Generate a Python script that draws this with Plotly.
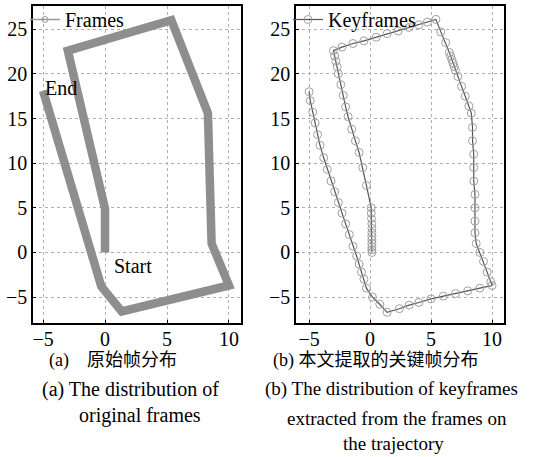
import plotly.graph_objects as go

# Original frames trajectory (vertices of the path)
frames_x = [0.0, 0.0, -3.0, 5.35, 8.3, 8.6, 10.0, 1.35, -0.3, -5.0]
frames_y = [0.0, 4.9, 22.6, 26.0, 15.6, 1.0, -3.7, -6.6, -3.8, 18.1]

# Extracted keyframes
key_x = [0.15, 0.15, 0.15, 0.15, 0.15, 0.15, 0.15, 0.15, 0.15, 0.12, 0.1, 0.1,
         -0.3, -0.6, -0.9, -1.2, -1.5, -1.8, -2.0, -2.2, -2.4, -2.6, -2.7, -2.8, -2.9, -3.0,
         -2.3, -1.4, -0.5, 0.5, 1.4, 2.3, 3.2, 4.0, 4.7, 5.4,
         5.8, 6.2, 6.5, 6.6, 6.7, 6.8, 6.9, 7.0, 7.2, 7.5, 7.8, 8.1, 8.3,
         8.4, 8.4, 8.5, 8.5, 8.5, 8.6, 8.6, 8.6, 8.6, 8.7,
         9.0, 9.3, 9.6, 9.9, 10.0,
         9.0, 8.0, 7.0, 6.0, 5.0, 4.0, 3.2, 2.4, 1.4,
         0.8, 0.2, -0.3,
         -0.5, -0.7, -0.9, -1.1, -1.4, -1.7, -2.0, -2.3, -2.6, -2.9, -3.2, -3.5,
         -3.8, -4.1, -4.3, -4.5, -4.7, -4.9, -5.0]
key_y = [0.0, 0.3, 0.6, 1.0, 1.4, 1.8, 2.2, 2.7, 3.2, 3.8, 4.4, 5.0,
         7.5, 9.5, 11.2, 12.5, 13.8, 15.2, 16.3, 17.6, 18.8, 20.0, 20.8, 21.4, 22.0, 22.6,
         23.0, 23.4, 23.7, 24.1, 24.5, 24.8, 25.2, 25.5, 25.8, 26.1,
         24.7, 23.5, 22.4, 22.0, 21.6, 21.2, 20.8, 20.4, 19.7, 18.6, 17.5, 16.4, 15.6,
         14.0, 12.5, 11.0, 9.5, 8.0, 6.5, 5.0, 3.5, 2.2, 1.0,
         0.0, -1.0, -2.2, -3.3, -3.7,
         -4.0, -4.3, -4.6, -4.9, -5.2, -5.6, -5.9, -6.3, -6.7,
         -5.8, -5.0, -4.0,
         -3.0, -2.2, -1.3, -0.4, 0.7, 2.0, 3.2, 4.4, 5.6, 6.8, 8.0, 9.3,
         10.6, 12.0, 13.2, 14.5, 15.7, 17.0, 18.0]

x_ticks = [-5, 0, 5, 10]
y_ticks = [-5, 0, 5, 10, 15, 20, 25]

SERIF = "Liberation Serif, Times New Roman, serif"
MIX = "Liberation Serif, Noto Sans CJK SC, serif"

fig = go.Figure()

# Left: original frames
fig.add_trace(go.Scatter(x=frames_x, y=frames_y, mode="lines",
                         line=dict(color="#8e8e8e", width=8.5),
                         showlegend=False, xaxis="x", yaxis="y"))
fig.add_trace(go.Scatter(x=[None], y=[None], mode="lines+markers", name="Frames",
                         line=dict(color="#9a9a9a", width=1.5),
                         marker=dict(symbol="circle-open", size=6, color="#9a9a9a"),
                         xaxis="x", yaxis="y", legend="legend"))

# Right: keyframes
fig.add_trace(go.Scatter(x=key_x, y=key_y, mode="lines+markers", name="Keyframes",
                         line=dict(color="#555555", width=1.2),
                         marker=dict(symbol="circle-open", size=8, color="#a0a0a0",
                                     line=dict(width=1)),
                         xaxis="x2", yaxis="y2", legend="legend2"))

axis_common = dict(
    showgrid=True, gridcolor="#b0b0b0", griddash="dot", gridwidth=1,
    zeroline=False, showline=True, linecolor="black", linewidth=1.5, mirror=True,
    ticks="inside", ticklen=3, tickcolor="black", automargin=False,
    tickfont=dict(family=SERIF, size=20, color="black"),
)
xaxis_common = dict(axis_common, ticklabelstandoff=-3)

fig.update_layout(
    width=544, height=457,
    margin=dict(l=0, r=0, t=0, b=0),
    paper_bgcolor="white", plot_bgcolor="white",
    xaxis=dict(domain=[33/544, 241/544], range=[-5.81, 10.97], tickvals=x_ticks,
               anchor="y", **xaxis_common),
    yaxis=dict(domain=[1-323/457, 1-6/457], range=[-7.9, 27.6], tickvals=y_ticks,
               anchor="x", **axis_common),
    xaxis2=dict(domain=[296/544, 504/544], range=[-6.07, 10.98], tickvals=x_ticks,
                anchor="y2", **xaxis_common),
    yaxis2=dict(domain=[1-323/457, 1-6/457], range=[-7.9, 27.6], tickvals=y_ticks,
                anchor="x2", **axis_common),
    legend=dict(x=25/544, y=1.0, xanchor="left", yanchor="top",
                bgcolor="rgba(0,0,0,0)", font=dict(family=SERIF, size=20, color="black"),
                itemwidth=30, tracegroupgap=0),
    legend2=dict(x=288/544, y=1.0, xanchor="left", yanchor="top",
                 bgcolor="rgba(0,0,0,0)", font=dict(family=SERIF, size=20, color="black"),
                 itemwidth=30, tracegroupgap=0),
    showlegend=True,
)

annos = [
    dict(text="End", x=-5.0, y=18.4, xref="x", yref="y", xanchor="left", yanchor="middle",
         showarrow=False, font=dict(family=SERIF, size=20, color="black")),
    dict(text="Start", x=0.56, y=-1.5, xref="x", yref="y", xanchor="left", yanchor="middle",
         showarrow=False, font=dict(family=SERIF, size=20, color="black")),
    dict(text="(a)\u3000原始帧分布", x=113/544, y=1-360/457, xref="paper", yref="paper",
         xanchor="center", yanchor="middle", showarrow=False,
         font=dict(family=MIX, size=18, color="black")),
    dict(text="(a) The distribution of", x=130/544, y=1-389/457, xref="paper", yref="paper",
         xanchor="center", yanchor="middle", showarrow=False,
         font=dict(family=SERIF, size=20, color="black")),
    dict(text="original frames", x=140/544, y=1-415/457, xref="paper", yref="paper",
         xanchor="center", yanchor="middle", showarrow=False,
         font=dict(family=SERIF, size=20, color="black")),
    dict(text="(b) 本文提取的关键帧分布", x=376/544, y=1-360/457, xref="paper", yref="paper",
         xanchor="center", yanchor="middle", showarrow=False,
         font=dict(family=MIX, size=18, color="black")),
    dict(text="(b) The distribution of keyframes", x=391/544, y=1-389/457, xref="paper",
         yref="paper", xanchor="center", yanchor="middle", showarrow=False,
         font=dict(family=SERIF, size=19, color="black")),
    dict(text="extracted from the frames on", x=397/544, y=1-418/457, xref="paper",
         yref="paper", xanchor="center", yanchor="middle", showarrow=False,
         font=dict(family=SERIF, size=19, color="black")),
    dict(text="the trajectory", x=393/544, y=1-443/457, xref="paper", yref="paper",
         xanchor="center", yanchor="middle", showarrow=False,
         font=dict(family=SERIF, size=19, color="black")),
]
fig.update_layout(annotations=annos)

fig.write_html("out.html", config={"displayModeBar": False},
               post_script="document.body.style.margin='0';document.body.style.overflow='hidden';")
